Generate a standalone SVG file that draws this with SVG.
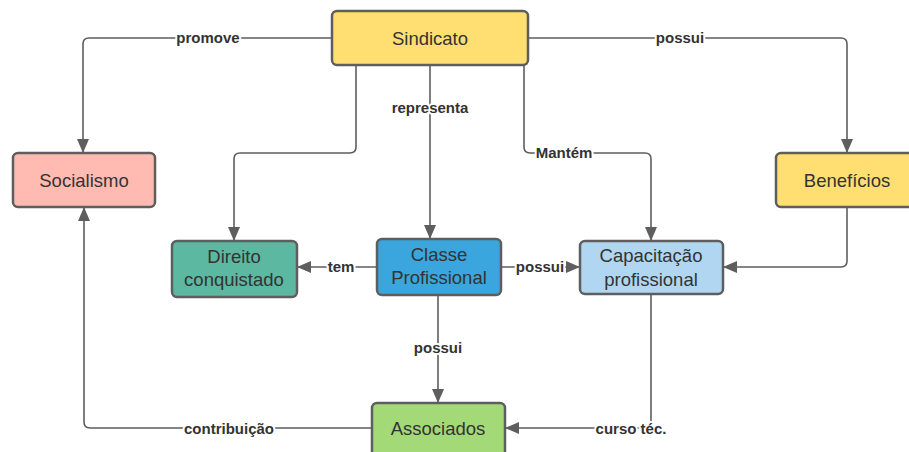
<svg xmlns="http://www.w3.org/2000/svg" width="909" height="452" viewBox="0 0 909 452">
<style>
.n{stroke:#5e5e5e;stroke-width:2.5}
.t{font-family:"Liberation Sans",Arial,sans-serif;font-size:18.5px;fill:#333;text-anchor:middle;dominant-baseline:central}
.c{fill:none;stroke:#5e5e5e;stroke-width:1.6}
.l{font-family:"Liberation Sans",Arial,sans-serif;font-size:15px;font-weight:bold;fill:#333;text-anchor:middle;dominant-baseline:central;stroke:#fff;stroke-width:4;paint-order:stroke;stroke-linejoin:round}
</style>
<defs>
<marker id="a" markerWidth="14" markerHeight="12" refX="13" refY="6" orient="auto" markerUnits="userSpaceOnUse">
<path d="M0,0 L14,6 L0,12 Z" fill="#5e5e5e"/>
</marker>
</defs>
<rect width="909" height="452" fill="#fff"/>
<g id="connectors">
<path class="c" d="M332,38 H89 Q83,38 83,44 V152" marker-end="url(#a)"/>
<path class="c" d="M528,38 H841 Q847,38 847,44 V152" marker-end="url(#a)"/>
<path class="c" d="M356,65 V147 Q356,153 350,153 H240 Q234,153 234,159 V240" marker-end="url(#a)"/>
<path class="c" d="M430,65 V238" marker-end="url(#a)"/>
<path class="c" d="M524,65 V147 Q524,153 530,153 H645 Q651,153 651,159 V240" marker-end="url(#a)"/>
<path class="c" d="M377,267 H298" marker-end="url(#a)"/>
<path class="c" d="M501,267 H579" marker-end="url(#a)"/>
<path class="c" d="M847,207 V261 Q847,267 841,267 H724" marker-end="url(#a)"/>
<path class="c" d="M438,295 V402" marker-end="url(#a)"/>
<path class="c" d="M651,294 V422 Q651,428 645,428 H506" marker-end="url(#a)"/>
<path class="c" d="M372,428 H90 Q84,428 84,422 V208" marker-end="url(#a)"/>
<text class="l" x="208" y="37">promove</text>
<text class="l" x="680" y="37">possui</text>
<text class="l" x="430" y="107">representa</text>
<text class="l" x="564" y="152">Mantém</text>
<text class="l" x="341" y="266">tem</text>
<text class="l" x="540" y="266">possui</text>
<text class="l" x="438" y="347">possui</text>
<text class="l" x="631" y="428">curso téc.</text>
<text class="l" x="229" y="428">contribuição</text>
</g>
<g id="sindicato"><rect class="n" x="332" y="11" width="196" height="54" rx="5" fill="#ffdf71"/><text class="t" x="430" y="38">Sindicato</text></g>
<g id="socialismo"><rect class="n" x="13" y="153" width="142" height="54" rx="5" fill="#ffbbb1"/><text class="t" x="84" y="180">Socialismo</text></g>
<g id="beneficios"><rect class="n" x="776" y="153" width="145" height="54" rx="5" fill="#ffdf71"/><text class="t" x="847" y="180">Benefícios</text></g>
<g id="direito"><rect class="n" x="172" y="241" width="125" height="56" rx="5" fill="#5cb8a0"/><text class="t" x="234" y="256">Direito</text><text class="t" x="234" y="279">conquistado</text></g>
<g id="classe"><rect class="n" x="377" y="239" width="124" height="56" rx="5" fill="#3aa6dd"/><text class="t" x="439" y="254">Classe</text><text class="t" x="439" y="277">Profissional</text></g>
<g id="capacitacao"><rect class="n" x="580" y="241" width="143" height="53" rx="5" fill="#b0d6f1"/><text class="t" x="651" y="255">Capacitação</text><text class="t" x="651" y="279">profissional</text></g>
<g id="associados"><rect class="n" x="372" y="403" width="133" height="56" rx="5" fill="#a3d977"/><text class="t" x="438" y="428">Associados</text></g>
</svg>
